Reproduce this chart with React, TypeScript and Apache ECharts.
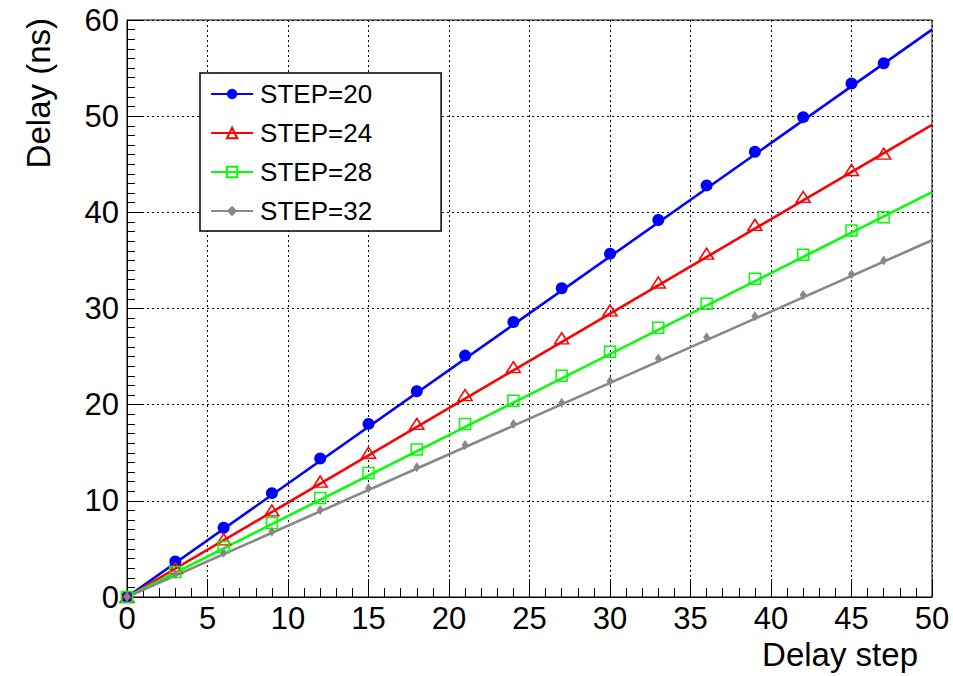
import React, { useEffect, useRef } from "react";
import * as echarts from "echarts";

const delaySteps = [0, 3, 6, 9, 12, 15, 18, 21, 24, 27, 30, 33, 36, 39, 42, 45, 47];
const step20 = [0, 3.7, 7.2, 10.8, 14.4, 18.0, 21.4, 25.1, 28.6, 32.1, 35.7, 39.2, 42.8, 46.3, 49.9, 53.4, 55.5];
const step24 = [0, 3.0, 6.0, 9.0, 12.0, 15.0, 18.0, 21.0, 23.9, 26.9, 29.8, 32.7, 35.7, 38.7, 41.6, 44.4, 46.1];
const step28 = [0, 2.6, 5.2, 7.7, 10.3, 12.9, 15.35, 18.0, 20.4, 23.0, 25.5, 28.0, 30.5, 33.1, 35.6, 38.1, 39.5];
const step32 = [0, 2.4, 4.6, 6.8, 9.05, 11.3, 13.5, 15.8, 18.0, 20.2, 22.45, 24.8, 27.0, 29.2, 31.4, 33.55, 35.0];

// Linear fits: [x, y] at start and end of fit range
const fitX = [0, 50];
const fit20 = [0, 59.0];
const fit24 = [0, 49.1];
const fit28 = [0, 42.1];
const fit32 = [0, 37.1];

const seriesNames = ["STEP=20", "STEP=24", "STEP=28", "STEP=32"];
const xTicks = [0, 5, 10, 15, 20, 25, 30, 35, 40, 45, 50];
const yTicks = [0, 10, 20, 30, 40, 50, 60];

const FONT = "'Liberation Sans', Arial, Helvetica, sans-serif";

export default function App() {
  const ref = useRef<HTMLDivElement>(null);
  useEffect(() => {
    if (!ref.current) return;
    const chart = echarts.init(ref.current, null, { renderer: "svg" });

    const styles = [
      { color: "#0000ff", symbol: "circle", size: 12, fill: "#0000ff", lw: 0 },
      { color: "#ff0000", symbol: "triangle", size: [14, 11], fill: "transparent", lw: 1.5 },
      { color: "#00ff00", symbol: "rect", size: 11, fill: "transparent", lw: 1.5 },
      { color: "#888888", symbol: "diamond", size: [7, 10], fill: "#888888", lw: 0 },
    ];
    const values = [step20, step24, step28, step32];
    const fits = [fit20, fit24, fit28, fit32];

    const series: any[] = [];
    styles.forEach((s, i) => {
      series.push({
        name: seriesNames[i],
        type: "line",
        data: fitX.map((x, k) => [x, fits[i][k]]),
        symbol: s.symbol,
        showSymbol: false,
        lineStyle: { color: s.color, width: 2.6 },
        itemStyle: { color: s.fill, borderColor: s.color, borderWidth: s.lw === 0 ? 0 : 1.5 },
        z: 2,
        silent: true,
      });
    });
    styles.forEach((s, i) => {
      series.push({
        name: seriesNames[i],
        type: "scatter",
        data: delaySteps.map((x, k) => [x, values[i][k]]),
        symbol: s.symbol,
        symbolSize: s.size,
        itemStyle: {
          color: s.fill,
          borderColor: s.color,
          borderWidth: s.lw,
          opacity: 1,
        },
        z: 3,
      });
    });

    chart.setOption({
      animation: false,
      backgroundColor: "#ffffff",
      textStyle: { fontFamily: FONT },
      grid: {
        left: 127,
        right: 21,
        top: 20,
        bottom: 79,
        containLabel: false,
        outerBoundsMode: "none",
        show: true,
        borderColor: "#000",
        borderWidth: 1,
        backgroundColor: "transparent",
      },
      legend: {
        orient: "vertical",
        left: 200,
        top: 73,
        padding: [8, 69, 7, 10],
        itemGap: 13,
        itemWidth: 42,
        itemHeight: 13,
        borderColor: "#000",
        borderWidth: 1.5,
        backgroundColor: "#fff",
        textStyle: {
          fontFamily: FONT,
          fontSize: 26,
          color: "#000",
          lineHeight: 26,
          padding: [0, 0, 0, 2],
        },
        data: seriesNames.map((n, i) => ({
          name: n,
          lineStyle: { color: styles[i].color, width: 2.2 },
        })),
      },
      xAxis: {
        type: "value",
        min: xTicks[0],
        max: xTicks[xTicks.length - 1],
        interval: 5,
        name: "Delay step",
        nameLocation: "end",
        nameGap: -14,
        nameMoveOverlap: false,
        nameTextStyle: {
          fontFamily: FONT,
          fontSize: 33,
          color: "#000",
          align: "right",
          verticalAlign: "top",
          lineHeight: 33,
          padding: [41, 0, 0, 0],
        },
        axisLine: { show: true, onZero: false, lineStyle: { color: "#000", width: 1 } },
        axisTick: { show: true, inside: true, length: 18, lineStyle: { color: "#000", width: 1 } },
        minorTick: { show: true, splitNumber: 5, length: 9, lineStyle: { color: "#000", width: 1 } },
        axisLabel: { fontFamily: FONT, fontSize: 31, color: "#000", margin: 6 },
        splitLine: { show: true, lineStyle: { color: "#000", width: 1, type: [2, 3] } },
      },
      yAxis: {
        type: "value",
        min: yTicks[0],
        max: yTicks[yTicks.length - 1],
        interval: 10,
        name: "Delay (ns)",
        nameLocation: "end",
        nameRotate: 90,
        nameGap: 2,
        nameMoveOverlap: false,
        nameTextStyle: {
          fontFamily: FONT,
          fontSize: 33,
          color: "#000",
          align: "right",
          verticalAlign: "bottom",
          lineHeight: 33,
          padding: [0, 0, 72, 0],
        },
        axisLine: { show: true, onZero: false, lineStyle: { color: "#000", width: 1 } },
        axisTick: { show: true, inside: true, length: 16, lineStyle: { color: "#000", width: 1 } },
        minorTick: { show: true, splitNumber: 10, length: 8, lineStyle: { color: "#000", width: 1 } },
        axisLabel: { fontFamily: FONT, fontSize: 31, color: "#000", margin: 8 },
        splitLine: { show: true, lineStyle: { color: "#000", width: 1, type: [2, 3] } },
      },
      series,
    });

    return () => chart.dispose();
  }, []);

  return (
    <div
      ref={ref}
      style={{ position: "fixed", left: 0, top: 0, width: 953, height: 676, background: "#fff" }}
    />
  );
}
